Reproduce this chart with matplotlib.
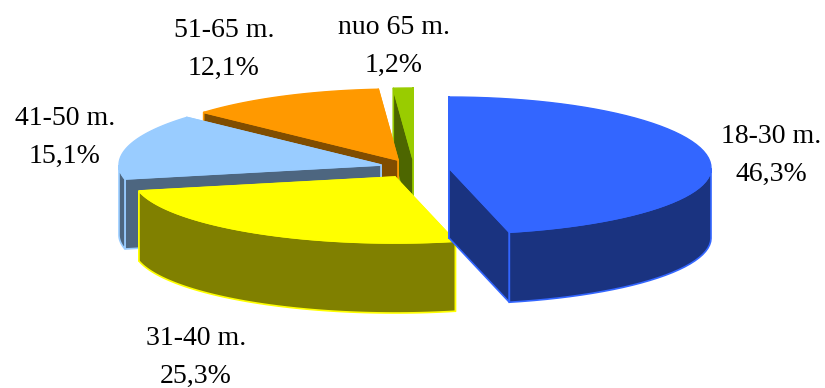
#!/usr/bin/env python3
import numpy as np
import matplotlib
matplotlib.use("Agg")
import matplotlib.pyplot as plt

# share of respondents by age group
labels = ["18-30 m.", "31-40 m.", "41-50 m.", "51-65 m.", "nuo 65 m."]
shares = [46.3, 25.3, 15.1, 12.1, 1.2]
share_text = ["46,3%", "25,3%", "15,1%", "12,1%", "1,2%"]

top_colors = ["#3366FF", "#FFFF00", "#99CCFF", "#FF9900", "#99CC00"]
side_colors = ["#1A3380", "#808000", "#4D6680", "#804D00", "#4D6600"]

# exploded wedge centres and label positions, in pixels
centers = [(449, 168), (395, 177), (381, 165), (398, 160), (413, 159)]
label_pos = [(771, 155), (196, 357), (65, 137), (224, 49), (394, 46)]
RX, RY_BACK, RY_FRONT = 262, 71, 66
DEPTH = 70


def rim(cx, cy, t):
    c = np.cos(t)
    ry = np.where(c > 0, RY_BACK, RY_FRONT)
    return np.column_stack([cx + RX * np.sin(t), cy - ry * c])


def draw_wedge(ax, center, t0, t1, top, side, z):
    cx, cy = center
    t = np.linspace(t0, t1, 60)
    edge = rim(cx, cy, t)
    down = np.array([0, DEPTH])

    # the two cut faces, the one further back first so the nearer one covers it
    for pt in sorted((edge[0], edge[-1]), key=lambda p: p[1]):
        face = [center, pt, pt + down, np.array(center) + down]
        ax.fill(*zip(*face), fc=side, ec=top, lw=1.2, zorder=z, joinstyle="round")

    # outer wall, only the part turned to the viewer
    front = (t > np.pi / 2) & (t < 3 * np.pi / 2)
    if front.sum() > 1:
        wall = np.vstack([edge[front], edge[front][::-1] + down])
        ax.fill(wall[:, 0], wall[:, 1], fc=side, ec=top, lw=1.2, zorder=z + 0.1)

    poly = np.vstack([[center], edge])
    ax.fill(poly[:, 0], poly[:, 1], fc=top, ec=top, lw=1.0, zorder=z + 0.2)


fig = plt.figure(figsize=(8.25, 3.88), dpi=100)
ax = fig.add_axes([0, 0, 1, 1])
ax.set_xlim(0, 825)
ax.set_ylim(388, 0)
ax.axis("off")

angles = np.concatenate([[0], np.cumsum(shares)]) / sum(shares) * 2 * np.pi
# painter's order: back wedges first, blue goes last
for i, z in zip([4, 3, 2, 1, 0], range(5)):
    draw_wedge(ax, centers[i], angles[i], angles[i + 1], top_colors[i], side_colors[i], z)

for name, pct, pos in zip(labels, share_text, label_pos):
    ax.text(pos[0], pos[1], name + "\n" + pct, ha="center", va="center",
            family="Liberation Serif", fontsize=20, linespacing=1.68, color="black", zorder=10)

fig.savefig("out.png", dpi=100)
